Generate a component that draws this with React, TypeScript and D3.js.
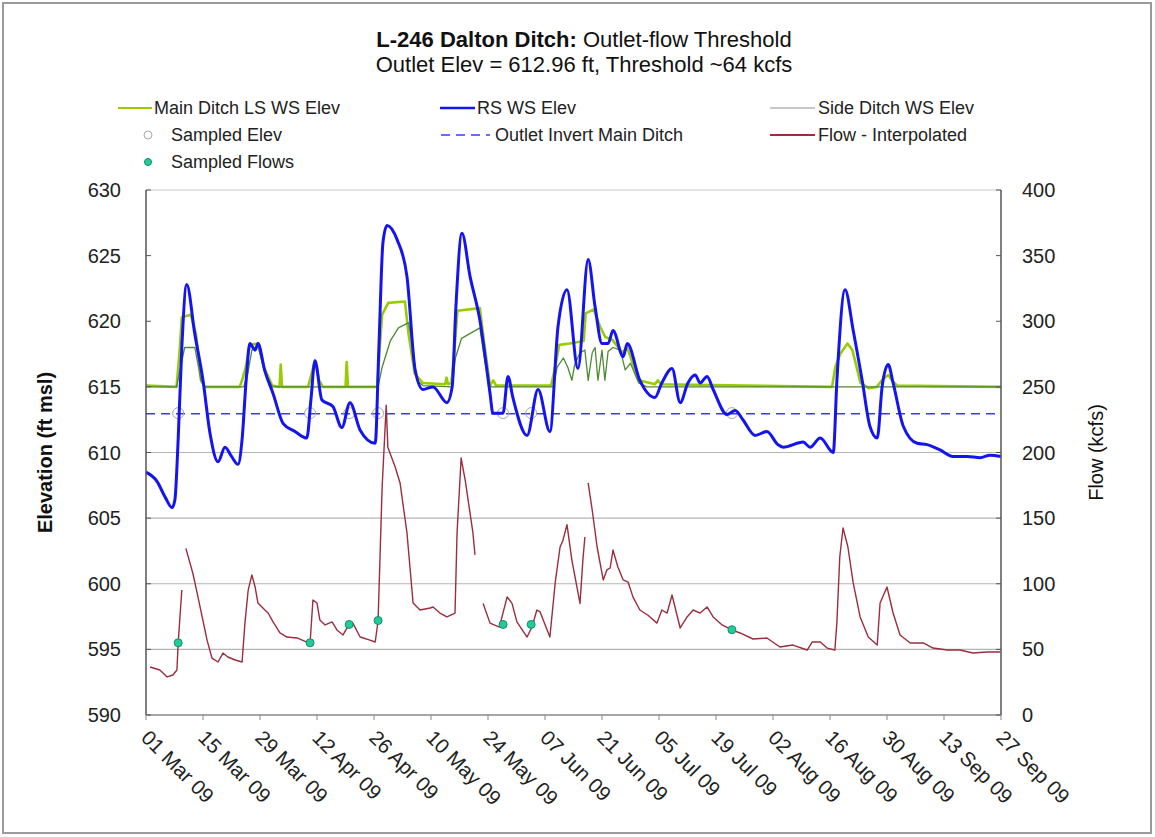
import React from "react";
import * as d3 from "d3";

// ---------- data ----------
const tickLabels = ["01 Mar 09", "15 Mar 09", "29 Mar 09", "12 Apr 09", "26 Apr 09", "10 May 09", "24 May 09", "07 Jun 09", "21 Jun 09", "05 Jul 09", "19 Jul 09", "02 Aug 09", "16 Aug 09", "30 Aug 09", "13 Sep 09", "27 Sep 09"];
const tickDays = [0, 14, 28, 42, 56, 70, 84, 98, 112, 126, 140, 154, 168, 182, 196, 210];
const elevTicks = [590, 595, 600, 605, 610, 615, 620, 625, 630];
const flowTicks = [0, 50, 100, 150, 200, 250, 300, 350, 400];
const gridElev = [595, 600, 605, 610];

// RS WS Elev (days since 01 Mar 09)
const rsDays = [0, 2.7, 4.7, 6.4, 7.1, 7.9, 8.8, 10, 12, 14, 15.7, 17.7, 19.4, 21, 22.6, 23.6, 24.6, 25.5, 26.8, 27.5, 29.2, 31.2, 33.7, 36.6, 39.5, 40.5, 41.5, 43.2, 45.9, 48.1, 50.1, 52.6, 56.3, 57.2, 58.2, 59.2, 61.7, 64.1, 66.1, 68, 70.5, 73.9, 75.2, 76.1, 77.6, 79.6, 82, 84.5, 85.2, 87.7, 88.9, 90.1, 93.6, 96.3, 99.2, 101.2, 103.4, 106.1, 108.6, 110.3, 112, 113.5, 114.7, 117.2, 118.2, 121.3, 125, 126.7, 129.2, 131.2, 133.1, 134.9, 136.1, 137.8, 139.3, 142.7, 144.7, 146.6, 149.6, 152.5, 155.2, 156.5, 161.4, 163.1, 165.6, 168.8, 169.7, 171.7, 173.7, 175.9, 177.8, 179.6, 180.8, 182.3, 183.5, 186, 189.4, 191.8, 195, 198.2, 201.7, 204.9, 207.3, 210];
const rsElev = [608.5, 607.8, 606.6, 605.8, 606.4, 611, 618, 622.8, 619, 615.5, 611.5, 609.3, 610.4, 609.7, 609.1, 611, 615.5, 618.3, 617.8, 618.3, 616.2, 614.5, 612.2, 611.6, 611.1, 614, 617, 614, 613.5, 611.9, 613.8, 611.7, 610.7, 618, 626, 627.3, 626.2, 623.4, 616.3, 614.8, 615, 613.8, 615, 621, 626.7, 623.4, 620.1, 614.5, 613, 613, 615.8, 614.2, 611.3, 614.8, 611.6, 619.6, 622.4, 616.4, 624.7, 621.1, 618.3, 618.3, 619.3, 617.3, 618.3, 615.5, 614.2, 615.3, 616.4, 613.8, 615.3, 615.9, 615.3, 615.8, 614.8, 612.9, 613.2, 612.5, 611.3, 611.6, 610.6, 610.4, 610.8, 610.4, 611.1, 610.0, 615.5, 622.4, 619.3, 615.5, 612, 611.1, 615, 616.7, 615.3, 612, 610.7, 610.6, 610.2, 609.7, 609.7, 609.6, 609.8, 609.7];

// Main Ditch LS WS Elev
const mainDays = [0, 7.5, 8.2, 8.8, 11, 12.3, 13.5, 14.5, 23, 23.6, 24.5, 25.5, 27.5, 29, 31, 32.8, 33.1, 33.4, 39.8, 40.5, 41.5, 42.5, 43.5, 49, 49.3, 49.6, 56.8, 57.3, 58, 59.5, 63.6, 64.5, 66, 68, 73.5, 73.8, 74.2, 75, 75.8, 76.5, 82, 83, 84.5, 85.3, 86, 99.5, 100.5, 101.5, 104, 107.5, 108, 110, 111.5, 112.8, 114.5, 117, 118.2, 121, 125, 125.7, 126.5, 168.5, 169.3, 170.5, 172.3, 173.5, 175.5, 177.5, 179.5, 181, 182.3, 183.5, 184.5, 210];
const mainElev = [615.1, 615.0, 617.5, 620.3, 620.5, 619, 615.5, 615.0, 615.0, 615.5, 616.5, 618.2, 618.3, 616.5, 615.1, 615.0, 616.7, 615.0, 615.0, 615.8, 617, 615.5, 615.0, 615.0, 616.9, 615.0, 615.0, 617.5, 620.5, 621.4, 621.5, 619, 616, 615.3, 615.2, 615.7, 615.2, 615.3, 618, 620.8, 621, 618.5, 615.1, 615.5, 615.1, 615.1, 616.5, 618.2, 618.3, 618.5, 620.6, 620.9, 619.6, 618.8, 618.6, 617.6, 618, 615.5, 615.2, 615.5, 615.2, 615.0, 616.5, 617.5, 618.3, 617.8, 615.3, 614.9, 615.0, 615.6, 615.9, 615.4, 615.1, 615.0];

// Side Ditch WS Elev
const sideDays = [0, 7.5, 8.5, 9.5, 12, 13.5, 14.5, 24, 25, 26, 27.5, 29, 31, 57, 58, 60, 62, 64.5, 65.5, 66.5, 68, 75.2, 76, 77.5, 82, 83.2, 84.5, 100, 101, 102.5, 103.6, 104.6, 105.3, 106.6, 107.8, 108.6, 109.6, 110.3, 111, 112, 112.7, 113.5, 114.7, 116.5, 117.7, 119, 121, 123, 210];
const sideElev = [615.0, 615.0, 616.5, 618.0, 618.0, 615.5, 615.0, 615.0, 616, 617.8, 618.1, 616.3, 615.0, 615.0, 616.5, 618.5, 619.5, 619.9, 618, 615.5, 615.1, 615.0, 617.2, 618.7, 619.5, 617, 615.0, 615.0, 616.5, 617.2, 616.5, 615.5, 616.7, 617.6, 617.8, 615.5, 617.6, 618, 615.5, 617.8, 615.5, 617.7, 618, 617.8, 616.3, 616.8, 615.3, 615.0, 615.0];

// Flow - Interpolated (kcfs), null = gap
const flowDays = [1.0, 3.4, 5.2, 6.6, 7.6, 7.9, 8.8, 9.3, 9.8, 11.5, 12.0, 13.8, 15.0, 16.2, 17.7, 18.9, 20.1, 21.9, 23.6, 24.3, 25.1, 26.0, 26.8, 27.5, 29.2, 30.0, 31.2, 32.9, 34.6, 37.1, 39.5, 40.3, 41.0, 42.0, 42.7, 44.0, 45.7, 46.9, 48.4, 49.9, 50.8, 52.6, 55.0, 56.3, 57.0, 58.0, 59.0, 59.4, 61.2, 62.4, 64.1, 65.6, 67.3, 69.8, 70.5, 72.2, 73.9, 75.9, 76.4, 77.4, 78.4, 80.3, 80.8, 81.8, 82.8, 84.5, 86.8, 88.7, 89.9, 91.1, 93.6, 94.8, 96.0, 96.8, 98.5, 99.2, 100.5, 101.7, 102.4, 103.4, 104.6, 106.6, 107.3, 107.8, 108.2, 108.6, 109.6, 110.8, 112.3, 113.2, 114.0, 114.7, 115.9, 117.2, 118.4, 119.6, 121.3, 123.3, 125.5, 126.7, 128.0, 129.2, 131.2, 132.9, 134.4, 136.1, 137.8, 139.3, 141.5, 143.9, 145.9, 149.1, 152.5, 155.7, 158.9, 162.4, 163.6, 165.6, 167.3, 169.2, 169.7, 170.4, 171.2, 172.4, 173.7, 175.4, 177.4, 179.6, 180.3, 182.0, 183.5, 185.2, 187.7, 190.9, 193.3, 196.8, 199.9, 203.1, 206.6, 209.8];
const flowVals = [36.6, 34.3, 29, 30.5, 34.3, 54.9, 95.2, null, 127, 108, 101, 74.7, 57, 43.4, 40.4, 47.2, 44.2, 41.9, 40.4, 70, 95.2, 106.7, 97.5, 85.3, 80, 77.7, 70.9, 62.5, 59.4, 58.7, 55.6, 54.9, 87.6, 85.3, 72.4, 68.6, 70.9, 64.8, 61, 69.3, 70, 59.4, 57.1, 55.6, 71.6, 173.7, 236, 204, 189, 176.8, 138.7, 85.3, 80, 81.5, 82.3, 77.7, 74.7, 77.7, 138.7, 195.8, 179, 138.7, 122, null, 85, 70, 67, 90, 85, 71, 59.4, 67, 80, 78.5, 65, 59.4, 100.6, 128, 133, 145, 118, 85, 118, 135.6, null, 176.8, 156, 128, 102.9, 110.5, 112, 125.7, 112.8, 102.9, 101.3, 90, 80, 76, 70, 80, 77.7, 91.4, 66.3, 74.7, 80, 77.7, 82.3, 74.7, 68.6, 64.8, 62.5, 57.9, 58.7, 51.8, 53.3, 49.5, 55.6, 55.6, 51, 49.5, 70.9, 120.4, 142.5, 128, 100.6, 74.7, 59.4, 53.3, 85.3, 97.5, 77.7, 61, 54.9, 54.9, 51, 49.5, 49.5, 47.2, 48, 48];

// Sampled points
const sampleDays = [7.9, 40.3, 49.9, 57.0, 87.7, 94.6, 143.9];
const sampledFlows = [55, 55, 69, 72, 69, 69, 65];
const sampledElevs = [613, 613, 613, 613, 613, 613, 613];
const outletInvert = 612.96;

// ---------- layout ----------
const W = 1155, H = 837;
const PL = 146, PR = 1001, PT = 190, PB = 715;
const FONT = "'Liberation Sans', Arial, Helvetica, sans-serif";

const C_MAIN = "#99cc00";
const C_SIDE = "#4f8a30";
const C_RS = "#1414f0";
const C_DASH = "#3a3aff";
const C_FLOW = "#9a2d3e";
const C_SFLOW = "#22cc99";

export default function App() {
  const x = d3.scaleLinear().domain([0, 210]).range([PL, PR]);
  const yE = d3.scaleLinear().domain([590, 630]).range([PB, PT]);
  const yF = d3.scaleLinear().domain([0, 400]).range([PB, PT]);

  const lineE = (days: number[], vals: number[], curve: d3.CurveFactory) =>
    d3.line<number>().x((_, i) => x(days[i])).y((v) => yE(v)).curve(curve)(vals) || "";
  const flowPath =
    d3.line<number | null>()
      .defined((v) => v !== null)
      .x((_, i) => x(flowDays[i]))
      .y((v) => yF(v as number))(flowVals) || "";

  const legendRowY = [108, 135, 162];

  return (
    <div style={{ position: "absolute", left: 0, top: 0 }}>
      <svg width={W} height={H} style={{ display: "block", fontFamily: FONT }}>
        <rect x={0} y={0} width={W} height={H} fill="#fff" />
        <rect x={3} y={3} width={W - 7} height={H - 7} fill="none" stroke="#9a9a9a" strokeWidth={2} />

        {/* title */}
        <text x={584} y={47} textAnchor="middle" fontSize={22} fill="#111">
          <tspan fontWeight="bold">L-246 Dalton Ditch:</tspan>
          <tspan> Outlet-flow Threshold</tspan>
        </text>
        <text x={584} y={72} textAnchor="middle" fontSize={22} fill="#111">
          Outlet Elev = 612.96 ft, Threshold ~64 kcfs
        </text>

        {/* legend */}
        <g fontSize={18} fill="#222">
          <line x1={118} x2={152} y1={legendRowY[0]} y2={legendRowY[0]} stroke={C_MAIN} strokeWidth={2} />
          <text x={154} y={legendRowY[0] + 6}>Main Ditch LS WS Elev</text>
          <line x1={440} x2={475} y1={legendRowY[0]} y2={legendRowY[0]} stroke={C_RS} strokeWidth={2.5} />
          <text x={477} y={legendRowY[0] + 6}>RS WS Elev</text>
          <line x1={770} x2={815} y1={legendRowY[0]} y2={legendRowY[0]} stroke="#c8c8c8" strokeWidth={2} />
          <text x={818} y={legendRowY[0] + 6}>Side Ditch WS Elev</text>

          <circle cx={148} cy={legendRowY[1]} r={4} fill="#fff" stroke="#aaa" strokeWidth={1} />
          <text x={171} y={legendRowY[1] + 6}>Sampled Elev</text>
          <line x1={441} x2={490} y1={legendRowY[1]} y2={legendRowY[1]} stroke={C_DASH} strokeWidth={1.5} strokeDasharray="9,6" />
          <text x={495} y={legendRowY[1] + 6}>Outlet Invert Main Ditch</text>
          <line x1={770} x2={815} y1={legendRowY[1]} y2={legendRowY[1]} stroke={C_FLOW} strokeWidth={2} />
          <text x={818} y={legendRowY[1] + 6}>Flow - Interpolated</text>

          <circle cx={148} cy={legendRowY[2]} r={3.5} fill={C_SFLOW} stroke="#178a6a" strokeWidth={1} />
          <text x={171} y={legendRowY[2] + 6}>Sampled Flows</text>
        </g>

        {/* gridlines */}
        {gridElev.map((v) => (
          <line key={v} x1={PL} x2={PR} y1={yE(v)} y2={yE(v)} stroke="#b5b5b5" strokeWidth={1.2} />
        ))}
        <line x1={PL} x2={PR} y1={PT} y2={PT} stroke="#dcdcdc" strokeWidth={1.5} />

        {/* series */}
        <path d={lineE(mainDays, mainElev, d3.curveLinear)} fill="none" stroke={C_MAIN} strokeWidth={2.6} strokeLinejoin="round" />
        <path d={lineE(sideDays, sideElev, d3.curveLinear)} fill="none" stroke={C_SIDE} strokeWidth={1.3} strokeLinejoin="round" />
        <line x1={PL} x2={PR} y1={yE(outletInvert)} y2={yE(outletInvert)} stroke={C_DASH} strokeWidth={1.5} strokeDasharray="9,6" />
        {sampleDays.map((d, i) => (
          <circle key={"se" + i} cx={x(d)} cy={yE(sampledElevs[i])} r={5.5} fill="none" stroke="#aaa" strokeWidth={1} />
        ))}
        <path d={lineE(rsDays, rsElev, d3.curveMonotoneX)} fill="none" stroke={C_RS} strokeWidth={3} strokeLinejoin="round" />
        <path d={flowPath} fill="none" stroke={C_FLOW} strokeWidth={1.4} strokeLinejoin="round" />
        {sampleDays.map((d, i) => (
          <circle key={"sf" + i} cx={x(d)} cy={yF(sampledFlows[i])} r={4} fill={C_SFLOW} stroke="#178a6a" strokeWidth={1} />
        ))}

        {/* axes */}
        <line x1={PL} x2={PL} y1={PT} y2={PB} stroke="#555" strokeWidth={1.5} />
        <line x1={PR} x2={PR} y1={PT} y2={PB} stroke="#555" strokeWidth={1.5} />
        <line x1={PL} x2={PR} y1={PB} y2={PB} stroke="#888" strokeWidth={1.5} />
        {elevTicks.map((v) => (
          <g key={"e" + v}>
            <line x1={PL} x2={PL + 5} y1={yE(v)} y2={yE(v)} stroke="#555" />
            <text x={121} y={yE(v) + 7} textAnchor="end" fontSize={20} fill="#222">{v}</text>
          </g>
        ))}
        {flowTicks.map((v) => (
          <g key={"f" + v}>
            <line x1={PR - 5} x2={PR} y1={yF(v)} y2={yF(v)} stroke="#555" />
            <text x={1022} y={yF(v) + 7} fontSize={20} fill="#222">{v}</text>
          </g>
        ))}
        {tickDays.map((d, i) => (
          <g key={"t" + d}>
            <line x1={x(d)} x2={x(d)} y1={PB} y2={PB + 5} stroke="#888" />
            <text transform={`translate(${x(d) - 6},${PB + 24}) rotate(45)`} fontSize={20.5} fill="#222">{tickLabels[i]}</text>
          </g>
        ))}

        <text transform={`translate(52,${(PT + PB) / 2}) rotate(-90)`} textAnchor="middle" fontSize={20} fontWeight="bold" fill="#111">
          Elevation (ft msl)
        </text>
        <text transform={`translate(1103,${(PT + PB) / 2}) rotate(-90)`} textAnchor="middle" fontSize={20} fill="#111">
          Flow (kcfs)
        </text>
      </svg>
    </div>
  );
}
